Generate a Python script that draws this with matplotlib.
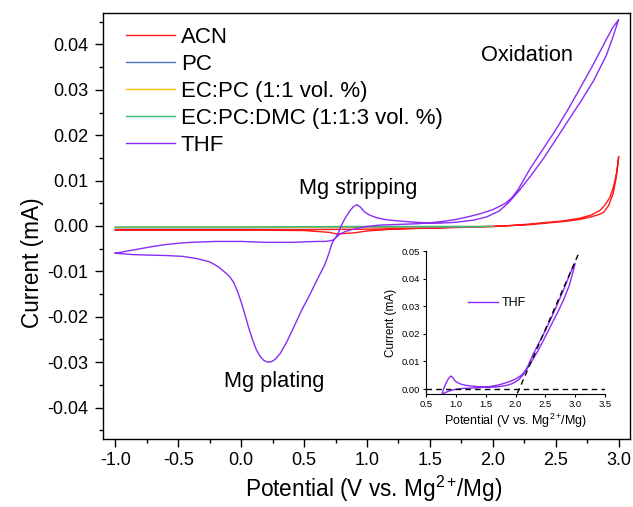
import numpy as np
import matplotlib
matplotlib.use('Agg')
import matplotlib.pyplot as plt
from matplotlib.ticker import MultipleLocator, FormatStrFormatter

plt.rcParams['font.family'] = ['Liberation Sans', 'DejaVu Sans']
plt.rcParams['mathtext.fontset'] = 'custom'
plt.rcParams['mathtext.rm'] = 'Liberation Sans'
plt.rcParams['mathtext.default'] = 'regular'
plt.rcParams['axes.unicode_minus'] = False

# --- dados (V vs. Mg2+/Mg, corrente em mA) ---
# THF: varredura anódica (-1.0 -> 3.0)
thf_v_fwd = [-1.00, -0.90, -0.80, -0.70, -0.60, -0.50, -0.40, -0.30, -0.20, -0.10,
             0.00, 0.10, 0.20, 0.30, 0.40, 0.50, 0.60, 0.66, 0.70, 0.73, 0.75,
             0.77, 0.79, 0.82, 0.86, 0.89, 0.92, 0.95, 0.98, 1.02, 1.08, 1.15,
             1.25, 1.40, 1.55, 1.70, 1.85, 1.95, 2.05, 2.12, 2.20, 2.30, 2.40,
             2.50, 2.60, 2.70, 2.80, 2.90, 2.95, 3.00]
thf_i_fwd = [-0.0060, -0.0055, -0.0050, -0.0045, -0.0041, -0.0038, -0.0036, -0.0035,
             -0.0034, -0.0034, -0.0034, -0.0035, -0.0036, -0.0036, -0.0036, -0.0035,
             -0.0034, -0.0034, -0.0033, -0.0031, -0.0027, -0.0017, -0.0003, 0.0014,
             0.0032, 0.0042, 0.0047, 0.0041, 0.0031, 0.0024, 0.0018, 0.0014, 0.0011,
             0.0008, 0.0006, 0.0008, 0.0013, 0.0020, 0.0033, 0.0050, 0.0075, 0.0110,
             0.0148, 0.0190, 0.0233, 0.0275, 0.0320, 0.0375, 0.0413, 0.0455]
# THF: varredura catódica (3.0 -> -1.0)
thf_v_rev = [3.00, 2.95, 2.90, 2.80, 2.70, 2.60, 2.50, 2.40, 2.30, 2.25, 2.20, 2.15,
             2.10, 2.00, 1.90, 1.80, 1.70, 1.60, 1.50, 1.40, 1.30, 1.20, 1.10, 1.00,
             0.94, 0.88, 0.83, 0.79, 0.76, 0.74, 0.72, 0.70, 0.68, 0.66, 0.61, 0.55,
             0.48, 0.42, 0.36, 0.31, 0.27, 0.24, 0.21, 0.18, 0.15, 0.12, 0.09, 0.06,
             0.03, 0.00, -0.03, -0.06, -0.09, -0.12, -0.18, -0.25, -0.35, -0.46,
             -0.60, -0.75, -0.86, -1.00]
thf_i_rev = [0.0455, 0.0436, 0.0410, 0.0357, 0.0307, 0.0258, 0.0212, 0.0170, 0.0128,
             0.0104, 0.0080, 0.0062, 0.0050, 0.0036, 0.0027, 0.0020, 0.0014, 0.0010,
             0.0007, 0.0005, 0.0004, 0.0003, 0.0002, -0.0001, -0.0004, -0.0008,
             -0.0012, -0.0017, -0.0023, -0.0029, -0.0040, -0.0058, -0.0074, -0.0088,
             -0.0115, -0.0149, -0.0186, -0.0222, -0.0257, -0.0281, -0.0294, -0.0299,
             -0.0300, -0.0296, -0.0287, -0.0272, -0.0250, -0.0224, -0.0195, -0.0167,
             -0.0143, -0.0124, -0.0112, -0.0104, -0.0090, -0.0079, -0.0072, -0.0067,
             -0.0065, -0.0064, -0.0063, -0.0060]

# ACN
acn_v_fwd = [-1.0, -0.5, 0.0, 0.5, 1.0, 1.5, 2.0, 2.3, 2.6, 2.7, 2.78, 2.84, 2.88,
             2.92, 2.955, 2.98, 3.0]
acn_i_fwd = [-0.0008, -0.0008, -0.0008, -0.0008, -0.0007, -0.0005, -0.0001, 0.0003,
             0.0011, 0.0015, 0.0020, 0.0025, 0.0030, 0.0045, 0.0071, 0.0105, 0.0153]
acn_v_rev = [3.0, 2.985, 2.96, 2.93, 2.89, 2.85, 2.78, 2.69, 2.55, 2.2, 2.0, 1.5,
             1.2, 1.0, 0.9, 0.8, 0.75, 0.7, 0.5, 0.0, -0.5, -1.0]
acn_i_rev = [0.0153, 0.0120, 0.0088, 0.0063, 0.0046, 0.0034, 0.0024, 0.0017, 0.0011,
             0.0002, -0.0001, -0.0004, -0.0007, -0.0011, -0.0015, -0.0017, -0.0017,
             -0.0014, -0.0010, -0.0009, -0.0009, -0.0009]

# PC, EC:PC, EC:PC:DMC
pc_v = [-1.0, 0.0, 1.0, 1.9]
pc_i = [-0.0004, -0.0004, -0.0003, -0.0002]
ecpc_v = [-1.0, 0.0, 1.0, 2.0]
ecpc_i = [-0.0003, -0.0003, -0.0002, -0.0001]
dmc_v = [-1.0, 0.0, 1.0, 2.0]
dmc_i = [-0.0002, -0.0002, -0.0001, -0.0001]

# reta tangente (inset)
tan_v = [2.03, 3.07]
tan_i = [-0.0016, 0.0497]

cor_acn = '#ff1a1a'
cor_pc = '#4a76c4'
cor_ecpc = '#ffc000'
cor_dmc = '#3cb878'
cor_thf = '#8a2cf5'

rotulo_x = r'Potential (V vs. Mg$^{2+}\!$/Mg)'

fig = plt.figure(figsize=(6.33, 5.07), dpi=100)
ax = fig.add_axes([0.1622, 0.1335, 0.8331, 0.8415])

ax.plot(acn_v_fwd + acn_v_rev, acn_i_fwd + acn_i_rev, color=cor_acn, lw=1.0, label='ACN')
ax.plot(pc_v, pc_i, color=cor_pc, lw=1.0, label='PC')
ax.plot(ecpc_v, ecpc_i, color=cor_ecpc, lw=1.0, label='EC:PC (1:1 vol. %)')
ax.plot(dmc_v, dmc_i, color=cor_dmc, lw=1.0, label='EC:PC:DMC (1:1:3 vol. %)')
ax.plot(thf_v_fwd + thf_v_rev, thf_i_fwd + thf_i_rev, color=cor_thf, lw=1.0, label='THF')

ax.set_xlim(-1.1, 3.09)
ax.set_ylim(-0.047, 0.047)
ax.xaxis.set_major_locator(MultipleLocator(0.5))
ax.xaxis.set_minor_locator(MultipleLocator(0.25))
ax.yaxis.set_major_locator(MultipleLocator(0.01))
ax.yaxis.set_minor_locator(MultipleLocator(0.005))
ax.xaxis.set_major_formatter(FormatStrFormatter('%.1f'))
ax.yaxis.set_major_formatter(FormatStrFormatter('%.2f'))
ax.tick_params(which='both', direction='out', top=False, right=False, width=1.0,
               labelsize=13)
ax.tick_params(which='major', length=5.5)
ax.tick_params(which='minor', length=3)
ax.tick_params(axis='x', pad=3.5)
ax.tick_params(axis='y', pad=5)
for s in ax.spines.values():
    s.set_linewidth(1.0)

ax.set_xlabel(rotulo_x, fontsize=16.3)
ax.set_ylabel('Current (mA)', fontsize=16.3)
ax.xaxis.set_label_coords(0.5145, -0.080)
ax.yaxis.set_label_coords(-0.112, 0.413)

ax.legend(loc='upper left', bbox_to_anchor=(0.044, 0.966), frameon=False,
          fontsize=16, handlelength=2.2, handletextpad=0.28, labelspacing=0.27,
          borderpad=0, borderaxespad=0)

ax.text(2.274, 0.0363, 'Oxidation', fontsize=15.7, ha='center', va='baseline')
ax.text(0.932, 0.0070, 'Mg stripping', fontsize=15.7, ha='center', va='baseline')
ax.text(0.259, -0.0355, 'Mg plating', fontsize=15.7, ha='center', va='baseline')

# --- inset ---
axi = fig.add_axes([0.673, 0.2229, 0.2828, 0.282])
axi.plot(thf_v_fwd + thf_v_rev, thf_i_fwd + thf_i_rev, color=cor_thf, lw=1.0, label='THF')
axi.axhline(0, color='black', ls=(0, (4, 3)), lw=1.0)
axi.plot(tan_v, tan_i, color='black', ls=(0, (4, 3)), lw=1.0)
axi.set_xlim(0.5, 3.5)
axi.set_ylim(-0.0018, 0.05)
axi.xaxis.set_major_locator(MultipleLocator(0.5))
axi.yaxis.set_major_locator(MultipleLocator(0.01))
axi.xaxis.set_major_formatter(FormatStrFormatter('%.1f'))
axi.yaxis.set_major_formatter(FormatStrFormatter('%.2f'))
axi.spines['top'].set_visible(False)
axi.spines['right'].set_visible(False)
axi.tick_params(direction='out', length=2.5, width=0.8, labelsize=6.8, pad=2)
axi.set_xlabel(rotulo_x, fontsize=9, labelpad=2)
axi.set_ylabel('Current (mA)', fontsize=8.5, labelpad=3)
axi.legend(loc='center left', bbox_to_anchor=(0.235, 0.636), frameon=False,
           fontsize=9, handlelength=2.4, handletextpad=0.3, borderpad=0,
           borderaxespad=0)

fig.savefig('out.png', dpi=100)
